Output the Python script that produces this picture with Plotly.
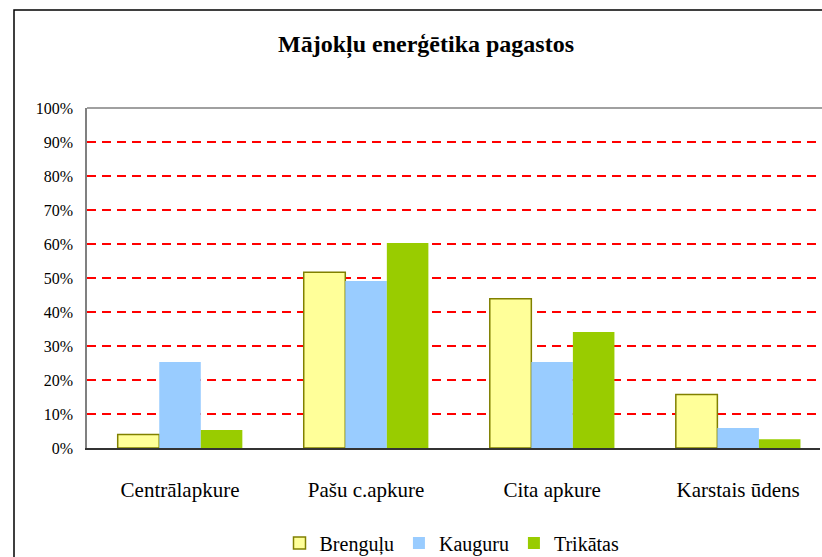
import plotly.graph_objects as go

categories = ["Centrālapkure", "Pašu c.apkure", "Cita apkure", "Karstais ūdens"]
brengulu = [0.040, 0.517, 0.439, 0.157]
kauguru = [0.253, 0.491, 0.253, 0.059]
trikatas = [0.053, 0.603, 0.341, 0.026]
series_names = ["Brenguļu", "Kauguru", "Trikātas"]
y_ticks = [0, 0.1, 0.2, 0.3, 0.4, 0.5, 0.6, 0.7, 0.8, 0.9, 1.0]

W, H = 822, 557
L, R, T, B = 87, 2, 108, 109
pw = W - L - R
ph = H - T - B

def px_x(x):
    return (x - L) / pw

def px_y(y):
    return (H - B - y) / ph

fig = go.Figure()
fig.add_trace(go.Bar(name=series_names[0], x=categories, y=brengulu,
                     marker=dict(color="#FFFF99", line=dict(color="#808000", width=1.5))))
fig.add_trace(go.Bar(name=series_names[1], x=categories, y=kauguru,
                     marker=dict(color="#99CCFF", line=dict(width=0))))
fig.add_trace(go.Bar(name=series_names[2], x=categories, y=trikatas,
                     marker=dict(color="#99CC00", line=dict(width=0))))

font_family = "Liberation Serif"

fig.update_layout(
    width=W, height=H,
    margin=dict(l=L, r=R, t=T, b=B, pad=0),
    paper_bgcolor="white", plot_bgcolor="white",
    barmode="group", bargap=0.33, bargroupgap=0,
    font=dict(family=font_family, color="black"),
    title=dict(text="<b>Mājokļu enerģētika pagastos</b>",
               font=dict(family=font_family, size=24, color="black"),
               x=px_x(426), xref="paper", xanchor="center",
               y=1 - 44 / H, yref="container", yanchor="middle"),
    legend=dict(orientation="h", x=452 / W, xref="container", xanchor="center",
                y=1 - 543 / H, yref="container", yanchor="middle",
                font=dict(family=font_family, size=20, color="black"),
                itemwidth=30, bgcolor="rgba(0,0,0,0)",
                tracegroupgap=0),
    showlegend=True,
)

fig.update_xaxes(
    range=[-0.5, 3.44], showgrid=False, zeroline=False,
    showline=True, linecolor="#333333", linewidth=1.5,
    ticks="", tickfont=dict(family=font_family, size=21, color="black"),
    ticklabelstandoff=22,
)
fig.update_yaxes(
    range=[0, 1], tickvals=y_ticks, tickformat=".0%",
    showgrid=True, gridcolor="#FF0000", gridwidth=1.5, griddash="9px,6px",
    zeroline=False, showline=True, linecolor="#808080", linewidth=1.5,
    ticks="", tickfont=dict(family=font_family, size=16, color="black"),
    ticklabelstandoff=9,
)

# plot area top border
fig.add_shape(type="line", xref="paper", yref="paper", x0=0, x1=1.05, y0=1, y1=1,
              line=dict(color="#808080", width=1.5), layer="above")
# outer chart border (extends past the visible crop)
fig.add_shape(type="rect", xref="paper", yref="paper",
              x0=px_x(14), x1=1.2, y0=px_y(10), y1=-0.6,
              line=dict(color="black", width=1.5), fillcolor="rgba(0,0,0,0)", layer="above")

fig.write_html("out.html", config={"displayModeBar": False},
               post_script="document.body.style.margin='0';document.body.style.overflow='hidden';")
